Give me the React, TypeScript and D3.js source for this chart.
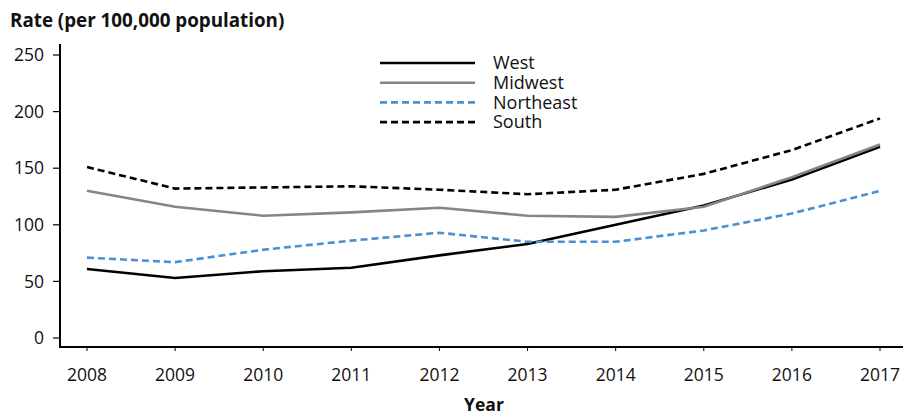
import React from "react";
import * as d3 from "d3";

const years = [2008, 2009, 2010, 2011, 2012, 2013, 2014, 2015, 2016, 2017];
const west = [61, 53, 59, 62, 73, 83, 100, 117, 140, 169];
const midwest = [130, 116, 108, 111, 115, 108, 107, 116, 142, 171];
const northeast = [71, 67, 78, 86, 93, 85, 85, 95, 110, 130];
const south = [151, 132, 133, 134, 131, 127, 131, 145, 166, 194];
const yTicks = [0, 50, 100, 150, 200, 250];

const seriesNames = ["West", "Midwest", "Northeast", "South"];
const seriesValues = [west, midwest, northeast, south];
const styles = [
  { color: "#000000", dash: "" },
  { color: "#858585", dash: "" },
  { color: "#4a90d2", dash: "7,4" },
  { color: "#000000", dash: "7,4" },
];

export default function App() {
  const W = 903, H = 416;
  const x = d3.scalePoint<number>().domain(years).range([87, 880]);
  const y = d3.scaleLinear().domain([0, 250]).range([338, 55]);
  const line = d3
    .line<number>()
    .x((_, i) => x(years[i]) as number)
    .y((d) => y(d));
  const font = "'Open Sans', 'Noto Sans', sans-serif";
  const axisY = 347;
  return (
    <svg width={W} height={H} style={{ position: "absolute", left: 0, top: 0, background: "#fff" }}>
      <text x={10} y={27} fontFamily={font} fontWeight="bold" fontSize={18.8} fill="#111">
        Rate (per 100,000 population)
      </text>
      {/* y axis */}
      <line x1={60} x2={60} y1={44} y2={axisY} stroke="#000" strokeWidth={2} />
      {yTicks.map((t) => (
        <g key={t}>
          <line x1={53} x2={60} y1={y(t)} y2={y(t)} stroke="#000" strokeWidth={1.2} />
          <text x={44} y={y(t)} dy="0.35em" textAnchor="end" fontFamily={font} fontSize={17.5} fill="#111">
            {t}
          </text>
        </g>
      ))}
      {/* x axis */}
      <line x1={59} x2={903} y1={axisY} y2={axisY} stroke="#000" strokeWidth={2} />
      {years.map((yr) => (
        <g key={yr}>
          <line x1={x(yr)} x2={x(yr)} y1={axisY} y2={axisY + 4} stroke="#000" strokeWidth={1} />
          <text x={x(yr)} y={375} dy="0.35em" textAnchor="middle" fontFamily={font} fontSize={17.5} fill="#111">
            {yr}
          </text>
        </g>
      ))}
      <text x={484} y={405} dy="0.35em" textAnchor="middle" fontFamily={font} fontWeight="bold" fontSize={17.5} fill="#111">
        Year
      </text>
      {/* series */}
      {seriesValues.map((vals, i) => (
        <path
          key={seriesNames[i]}
          d={line(vals) || ""}
          fill="none"
          stroke={styles[i].color}
          strokeWidth={2.6}
          strokeDasharray={styles[i].dash}
        />
      ))}
      {/* legend */}
      {seriesNames.map((n, i) => {
        const ly = 63 + i * 19.7;
        return (
          <g key={n}>
            <line x1={380} x2={475} y1={ly} y2={ly} stroke={styles[i].color} strokeWidth={2.6} strokeDasharray={styles[i].dash} />
            <text x={493} y={ly} dy="0.35em" fontFamily={font} fontSize={18} fill="#111">
              {n}
            </text>
          </g>
        );
      })}
    </svg>
  );
}
